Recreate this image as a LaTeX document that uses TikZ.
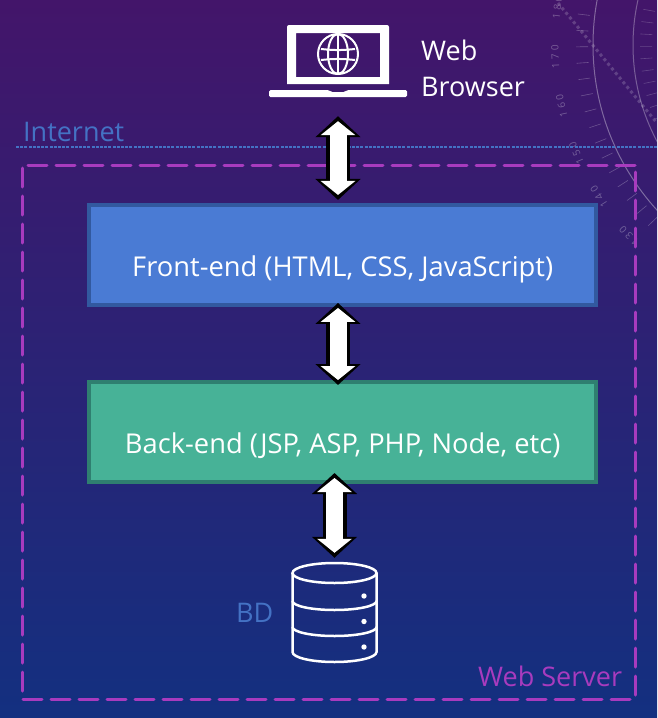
\documentclass[tikz,border=0pt]{standalone}
\usepackage{fontspec}
\setmainfont{Open Sans}
\usetikzlibrary{
  arrows.meta,
  calc
}
\definecolor{slideTop}{HTML}{43156A}
\definecolor{slideMid}{HTML}{2A2680}
\definecolor{slideBottom}{HTML}{133080}
\definecolor{tierBlue}{HTML}{4A7BD4}
\definecolor{tierBlueEdge}{HTML}{32599F}
\definecolor{tierGreen}{HTML}{47B297}
\definecolor{tierGreenEdge}{HTML}{2F7F70}
\definecolor{labelBlue}{HTML}{4472C4}
\definecolor{serverPurple}{HTML}{A83BBE}
\tikzset{
  tierBox/.style={
    draw,
    line width=4pt,
    minimum width=506.5pt,
    minimum height=99.5pt,
    inner sep=0pt,
    text=white,
    font=\fontsize{27.3}{32}\selectfont,
    text height=50pt,
    text depth=7pt
  },
  blockArrow/.style 2 args={
    line width=17pt,
    white,
    shorten <=#1+5pt,
    shorten >=#2+5pt,
    {Triangle[length=14pt,width=34pt]}-{Triangle[length=14pt,width=34pt]},
    preaction={
      draw=black,
      line width=24pt,
      shorten <=#1,
      shorten >=#2,
      {Triangle[length=21pt,width=44pt]}-{Triangle[length=21pt,width=44pt]}
    }
  },
  sideLabel/.style={
    inner sep=0pt,
    anchor=base west,
    font=\fontsize{27}{36}\selectfont
  },
  iconSpot/.style={inner sep=0pt, minimum width=#1}
}

\begin{document}
\begin{tikzpicture}[x=1pt,y=-1pt]
  \useasboundingbox (0,0) rectangle (657,718);
  \shade[top color=slideTop, middle color=slideMid, bottom color=slideBottom] (0,0) rectangle (657,718);

  \begin{scope}
    \clip (0,0) rectangle (657,718);
    \draw[white, opacity=0.35, line width=1pt] (838,45) circle (245);
    \draw[white, opacity=0.3, line width=1pt] (838,45) circle (205);
    \draw[white, opacity=0.18, line width=3pt, dash pattern=on 3pt off 3pt] (558,3) -- (657,123);
    \foreach \a in {-14,-10.4,...,56} {
      \draw[white, opacity=0.25, line width=0.6pt] ($(838,45)+(180-\a:250)$) -- ($(838,45)+(180-\a:262)$);
      \draw[white, opacity=0.2, line width=0.6pt] ($(838,45)+(180-\a:186)$) -- ($(838,45)+(180-\a:198)$);
    }
    \foreach \a/\lab in {-7.6/180,2.4/170,12.4/160,22.4/150,32.4/140,42.4/130} {
      \node[white, opacity=0.3, inner sep=0pt, font=\fontsize{10}{10}\selectfont\addfontfeature{LetterSpace=30}, rotate=90+\a] at ($(838,45)+(180-\a:283)$) {\lab};
    }
  \end{scope}

  \draw[labelBlue, line width=1.3pt, dash pattern=on 3pt off 1.2pt] (16,147) -- (657,147);
  \node[sideLabel, text=labelBlue] (internet) at (23,141) {Internet};
  \draw[serverPurple, line width=3pt, line cap=round, dash pattern=on 19pt off 9pt] (635,165) -- (22,165) -- (22,699) -- (635,699) -- cycle;
  \node[sideLabel, text=serverPurple] (server) at (478,686) {Web Server};

  \node[iconSpot=138pt, minimum height=72pt] (browser) at (338,61) {};
  \fill[white, even odd rule] (287,84) [rounded corners=2pt] -- (287,25) -- (389,25) [sharp corners] -- (389,84) -- cycle
    (296,33) rectangle (380,77);
  \fill[white, rounded corners=1.5pt] (269,90) -- (329,90) -- (331,92) -- (345,92) -- (347,90) -- (407,90) -- (407,97) -- (269,97) -- cycle;
  \begin{scope}[white, line width=2pt]
    \draw (338,54) circle (20);
    \draw (338,54) ellipse (10 and 20);
    \draw (338,34) -- (338,74);
    \draw (321,49) to[bend right=6] (355,49);
    \draw (321,60) to[bend left=6] (355,60);
  \end{scope}
  \node[sideLabel, text=white, align=left] (browserLabel) at (421,96) {Web\\Browser};

  \node[tierBox, draw=tierBlueEdge, fill=tierBlue] (front) at (342.7,255.2) {Front-end (HTML, CSS, JavaScript)};
  \node[tierBox, draw=tierGreenEdge, fill=tierGreen] (back) at (342.7,432) {Back-end (JSP, ASP, PHP, Node, etc)};

  \node[iconSpot=85pt, minimum height=99pt] (db) at (334.5,612.5) {};
  \begin{scope}[white, line width=2.5pt]
    \draw (334.5,573) ellipse (42 and 10);
    \draw (292.5,573) -- (292.5,652) arc[start angle=180, end angle=0, x radius=42, y radius=10] -- (376.5,573);
    \draw (292.5,601) arc[start angle=180, end angle=0, x radius=42, y radius=9];
    \draw (292.5,627) arc[start angle=180, end angle=0, x radius=42, y radius=9];
    \foreach \y in {596,621.5,647} {
      \fill (364,\y) circle (2.7);
    }
  \end{scope}
  \node[sideLabel, text=labelBlue] (dbLabel) at (236,622) {BD};

  \draw[blockArrow={19pt}{3.5pt}] (browser.south) -- (front.north -| browser.south);
  \draw[blockArrow={-4pt}{-4.75pt}] (front.south -| browser.south) -- (back.north -| browser.south);
  \draw[blockArrow={-10.75pt}{5pt}] (back.south -| db.north) -- (db.north);
\end{tikzpicture}
\end{document}
